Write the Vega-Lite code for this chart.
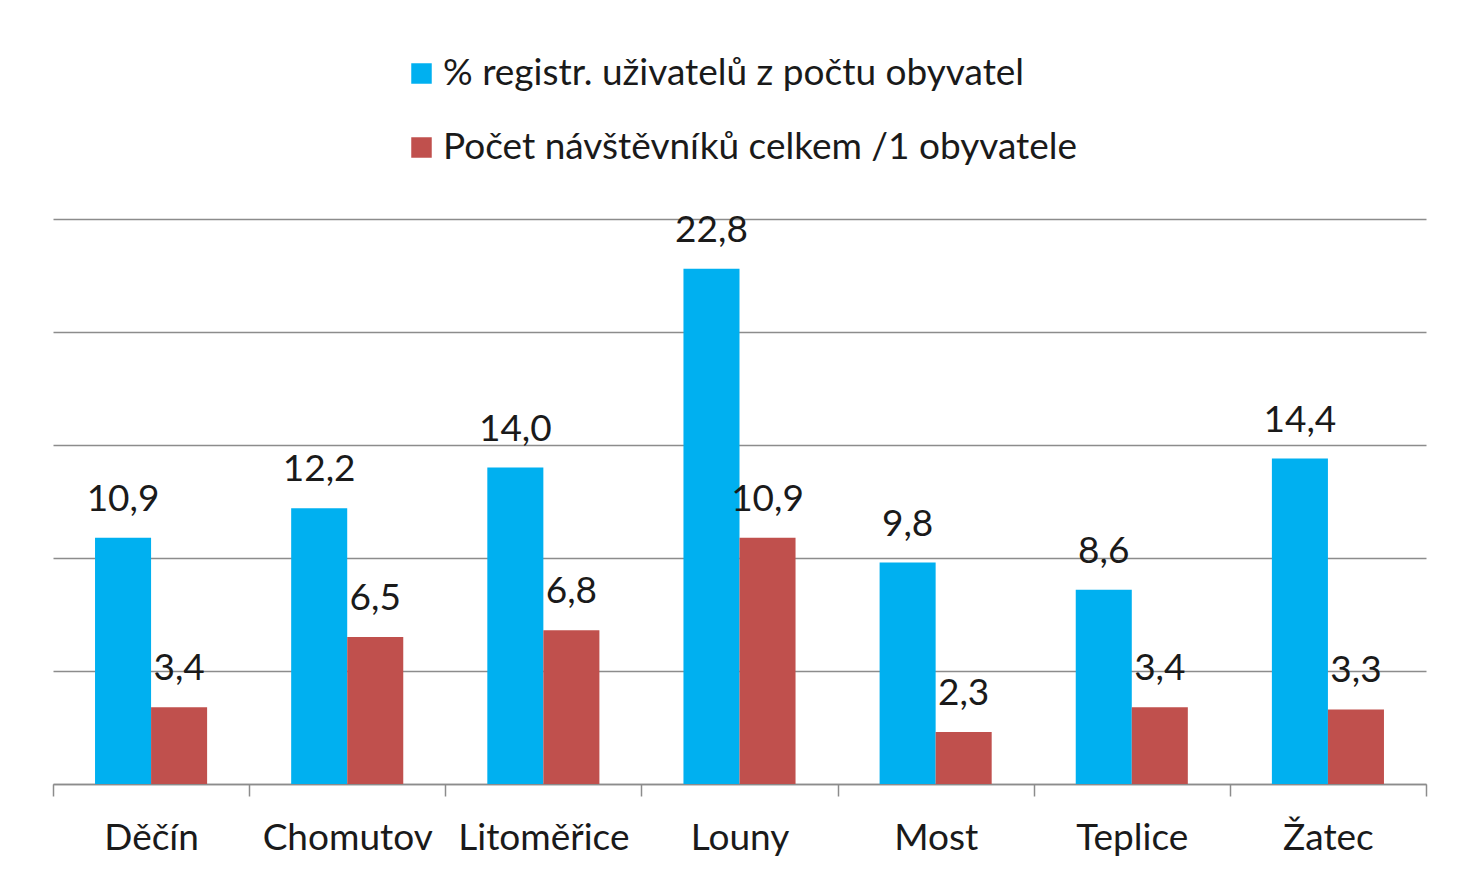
{
  "$schema": "https://vega.github.io/schema/vega-lite/v6.json",
  "width": 1373,
  "height": 565,
  "autosize": {"type": "none"},
  "padding": {"left": 53, "top": 219, "right": 34, "bottom": 99},
  "background": "white",
  "config": {
    "font": "Lato",
    "view": {"stroke": null},
    "locale": {"number": {"decimal": ",", "thousands": " ", "grouping": [3], "currency": ["", " Kč"]}}
  },
  "data": {
    "values": [
      {"mesto": "Děčín", "serie": "% registr. uživatelů z počtu obyvatel", "hodnota": 10.9},
      {"mesto": "Děčín", "serie": "Počet návštěvníků celkem /1 obyvatele", "hodnota": 3.4},
      {"mesto": "Chomutov", "serie": "% registr. uživatelů z počtu obyvatel", "hodnota": 12.2},
      {"mesto": "Chomutov", "serie": "Počet návštěvníků celkem /1 obyvatele", "hodnota": 6.5},
      {"mesto": "Litoměřice", "serie": "% registr. uživatelů z počtu obyvatel", "hodnota": 14.0},
      {"mesto": "Litoměřice", "serie": "Počet návštěvníků celkem /1 obyvatele", "hodnota": 6.8},
      {"mesto": "Louny", "serie": "% registr. uživatelů z počtu obyvatel", "hodnota": 22.8},
      {"mesto": "Louny", "serie": "Počet návštěvníků celkem /1 obyvatele", "hodnota": 10.9},
      {"mesto": "Most", "serie": "% registr. uživatelů z počtu obyvatel", "hodnota": 9.8},
      {"mesto": "Most", "serie": "Počet návštěvníků celkem /1 obyvatele", "hodnota": 2.3},
      {"mesto": "Teplice", "serie": "% registr. uživatelů z počtu obyvatel", "hodnota": 8.6},
      {"mesto": "Teplice", "serie": "Počet návštěvníků celkem /1 obyvatele", "hodnota": 3.4},
      {"mesto": "Žatec", "serie": "% registr. uživatelů z počtu obyvatel", "hodnota": 14.4},
      {"mesto": "Žatec", "serie": "Počet návštěvníků celkem /1 obyvatele", "hodnota": 3.3}
    ]
  },
  "encoding": {
    "x": {
      "field": "mesto",
      "type": "nominal",
      "sort": null,
      "scale": {"paddingInner": 0, "paddingOuter": 0},
      "axis": {
        "title": null,
        "labelAngle": 0,
        "labelFont": "Lato",
        "labelFontSize": 37,
        "labelColor": "#1a1a1a",
        "labelPadding": 24,
        "tickBand": "extent",
        "tickSize": 12,
        "tickColor": "#8c8c8c",
        "tickWidth": 1.5,
        "domainColor": "#8c8c8c",
        "domainWidth": 1.5,
        "grid": false
      }
    },
    "xOffset": {"field": "serie", "type": "nominal", "sort": null, "scale": {"paddingInner": 0, "paddingOuter": 0.75}},
    "y": {
      "field": "hodnota",
      "type": "quantitative",
      "scale": {"domain": [0, 25], "nice": false},
      "axis": {
        "title": null,
        "values": [0, 5, 10, 15, 20, 25],
        "labels": false,
        "ticks": false,
        "domain": false,
        "grid": true,
        "gridColor": "#8c8c8c",
        "gridWidth": 1.5
      }
    }
  },
  "layer": [
    {
      "mark": {"type": "bar"},
      "encoding": {
        "color": {
          "field": "serie",
          "type": "nominal",
          "sort": null,
          "scale": {"range": ["#00b0f0", "#c0504d"]},
          "legend": {
            "title": null,
            "orient": "none",
            "legendX": 350,
            "legendY": -164,
            "direction": "vertical",
            "symbolType": "square",
            "symbolSize": 420,
            "symbolStrokeWidth": 0,
            "labelFont": "Lato",
            "labelFontSize": 37,
            "labelColor": "#1a1a1a",
            "labelOffset": 3,
            "rowPadding": 36,
            "labelLimit": 900
          }
        }
      }
    },
    {
      "mark": {"type": "text", "baseline": "alphabetic", "dy": -27, "fontSize": 37, "font": "Lato", "color": "#1a1a1a"},
      "encoding": {
        "text": {"field": "hodnota", "type": "quantitative", "format": ".1f"}
      }
    }
  ]
}
